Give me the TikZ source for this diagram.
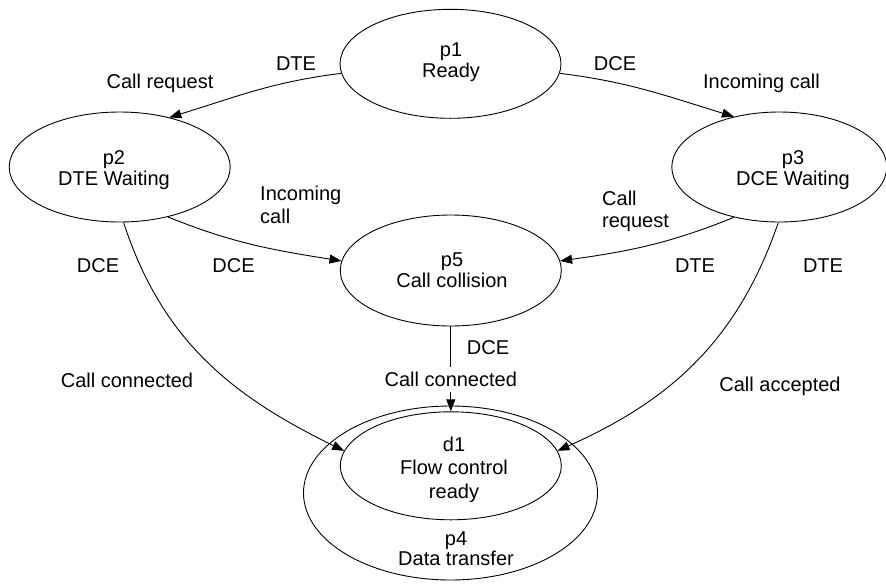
\documentclass[tikz,border=0pt]{standalone}
\usepackage{fontspec}
\setmainfont{Liberation Sans}
\usetikzlibrary{shapes.geometric,arrows.meta}
\begin{document}
\begin{tikzpicture}[x=1pt,y=1pt,
  state/.style={draw,ellipse,inner sep=0pt,line width=0.9pt},
  txt/.style={anchor=base,inner sep=0pt,font=\fontsize{20}{21}\selectfont},
  txtl/.style={txt,anchor=base west},
  conn/.style={line width=0.9pt,-{Triangle[length=12pt,width=9pt]}},
  plainline/.style={line width=0.9pt}]
\useasboundingbox (0,0) rectangle (886,-584);
% states
\node[state,minimum width=221pt,minimum height=109pt] (p1) at (450.5,-63.8) {};
\node[state,minimum width=221pt,minimum height=110pt] (p2) at (119.7,-167) {};
\node[state,minimum width=215pt,minimum height=110pt] (p3) at (779.3,-167) {};
\node[state,minimum width=221pt,minimum height=111pt] (p5) at (450.8,-270.5) {};
\node[state,minimum width=294pt,minimum height=174pt] (p4) at (450.5,-493) {};
\node[state,minimum width=221pt,minimum height=108pt] (d1) at (450.8,-465.8) {};
% state texts
\node[txt] (p1a) at (451,-56) {p1};
\node[txt] (p1b) at (451,-77) {Ready};
\node[txt] (p2a) at (114,-164) {p2};
\node[txt] (p2b) at (114,-185) {DTE Waiting};
\node[txt] (p3a) at (793,-164) {p3};
\node[txt] (p3b) at (793,-185) {DCE Waiting};
\node[txt] (p5a) at (452,-266) {p5};
\node[txt] (p5b) at (452,-287) {Call collision};
\node[txt] (d1a) at (454,-451) {d1};
\node[txt] (d1b) at (454,-474.5) {Flow control};
\node[txt] (d1c) at (454,-498) {ready};
\node[txt] (p4a) at (456,-545) {p4};
\node[txt] (p4b) at (456,-565) {Data transfer};
% edge labels
\node[txt] (l1) at (296,-70.5) {DTE};
\node[txt] (l2) at (160,-88.5) {Call request};
\node[txt] (l3) at (615,-70.5) {DCE};
\node[txt] (l4) at (761.5,-88.5) {Incoming call};
\node[txtl] (l5) at (260,-200) {Incoming};
\node[txtl] (l6) at (260,-223) {call};
\node[txtl] (l7) at (602,-205) {Call};
\node[txtl] (l8) at (602,-227) {request};
\node[txt] (l9) at (98,-272) {DCE};
\node[txt] (l10) at (233.5,-272) {DCE};
\node[txt] (l11) at (695,-272) {DTE};
\node[txt] (l12) at (823,-272) {DTE};
\node[txt] (l13) at (488,-354) {DCE};
\node[txt] (l14) at (127,-387) {Call connected};
\node[txt] (l15) at (780,-391) {Call accepted};
\node[txt,inner xsep=2pt,inner ysep=5pt] (cc) at (450.8,-386.5) {Call connected};
% connectors
\draw[conn] (p1.185.3) to[out=187,in=17] (p2.45);
\draw[conn] (p1.-5.3) to[out=-7,in=163] (p3.132.8);
\draw[conn] (p2.-46.6) to[out=-22,in=171] (p5.175.5);
\draw[conn] (p3.228.5) to[out=202,in=8] (p5.5);
\draw[conn] (p2.-86.6) to[out=-72,in=154] (d1.172.6);
\draw[conn] (p3.-91.3) to[out=251,in=24] (d1.8.5);
\draw[plainline] (p5.south) -- (p5.south |- cc.north);
\draw[conn] (p5.south |- cc.south) -- (d1.north);
\end{tikzpicture}
\end{document}
